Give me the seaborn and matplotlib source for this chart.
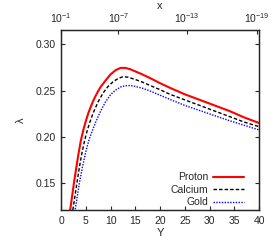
import matplotlib
matplotlib.use("Agg")
import matplotlib.pyplot as plt
import pandas as pd
import seaborn as sns
from matplotlib.lines import Line2D

# curve values (Y, lambda)
proton_y = [1.7, 2.0, 2.6, 3.0, 3.5, 4.0, 4.5, 5.0, 5.5, 6.0, 6.5, 7.0, 7.5, 8.0, 9.0, 10.0,
            11.0, 12.0, 13.0, 14.0, 16.0, 18.0, 20.0, 22.0, 25.0, 28.0, 31.0, 34.0, 37.0, 40.0]
proton_l = [0.116, 0.127, 0.150, 0.164, 0.181, 0.196, 0.2075, 0.217, 0.2255, 0.2325, 0.239,
            0.2445, 0.2495, 0.254, 0.261, 0.2675, 0.272, 0.2745, 0.2745, 0.273, 0.2685, 0.2635,
            0.258, 0.253, 0.246, 0.240, 0.234, 0.228, 0.221, 0.215]

calcium_y = [2.2, 2.7, 3.2, 3.7, 4.2, 4.8, 5.3, 5.8, 6.5, 7.5, 8.5, 9.5, 10.5, 11.5, 12.5,
             13.5, 15.0, 16.5, 18.0, 20.0, 22.0, 25.0, 28.0, 31.0, 34.0, 37.0, 40.0]
calcium_l = [0.115, 0.132, 0.150, 0.167, 0.182, 0.197, 0.207, 0.2155, 0.226, 0.238, 0.2475,
             0.2545, 0.2595, 0.263, 0.265, 0.2645, 0.262, 0.259, 0.2555, 0.251, 0.246, 0.240,
             0.234, 0.228, 0.222, 0.216, 0.211]

gold_y = [2.6, 3.2, 3.7, 4.3, 5.0, 5.6, 6.2, 7.0, 8.0, 9.0, 10.0, 11.0, 12.0, 13.0, 14.0,
          15.0, 16.5, 18.0, 20.0, 22.0, 25.0, 28.0, 31.0, 34.0, 37.0, 40.0]
gold_l = [0.113, 0.133, 0.150, 0.167, 0.184, 0.196, 0.205, 0.216, 0.228, 0.238, 0.2455,
          0.2505, 0.2538, 0.2553, 0.2555, 0.2545, 0.2525, 0.2495, 0.245, 0.2405, 0.234,
          0.2285, 0.223, 0.2175, 0.2125, 0.2075]

series_names = ["Proton", "Calcium", "Gold"]
series_colors = ["#ff0000", "#000000", "#0000ff"]
series_styles = ["-", (0, (2.5, 1.5)), (0, (1, 1))]
series_widths = [1.5, 1.0, 1.0]

x_ticks = [0, 5, 10, 15, 20, 25, 30, 35, 40]
y_ticks = [0.15, 0.20, 0.25, 0.30]
top_tick_pos = [0.0, 11.6, 25.4, 39.6]
top_tick_labels = [r"$10^{-1}$", r"$10^{-7}$", r"$10^{-13}$", r"$10^{-19}$"]

sns.set_style("ticks")
plt.rcParams["font.family"] = ["Liberation Sans", "DejaVu Sans"]
plt.rcParams["mathtext.fontset"] = "custom"
plt.rcParams["mathtext.rm"] = "Liberation Sans"
plt.rcParams["mathtext.it"] = "Liberation Sans"

fig = plt.figure(figsize=(2.75, 2.5), dpi=100)
ax = fig.add_axes([0.222, 0.16, 0.72, 0.722])

data = [(proton_y, proton_l), (calcium_y, calcium_l), (gold_y, gold_l)]
handles = []
for (xs, ls), name, c, st, lw in zip(data, series_names, series_colors, series_styles, series_widths):
    df = pd.DataFrame({"Y": xs, "lam": ls})
    sns.lineplot(data=df, x="Y", y="lam", ax=ax, color=c, linestyle=st, linewidth=lw,
                 sort=False, estimator=None)
    handles.append(Line2D([], [], color=c, linestyle=st, linewidth=lw, label=name))

ax.set_xlim(0, 40)
ax.set_ylim(0.121, 0.316)
ax.set_xticks(x_ticks)
ax.set_yticks(y_ticks)
ax.set_yticklabels([f"{v:.2f}" for v in y_ticks])
ax.set_xlabel("Y", fontsize=8, labelpad=2)
ax.set_ylabel("λ", fontsize=8, labelpad=7)
ax.tick_params(direction="in", length=3, width=0.8, labelsize=7.5, right=True, top=False,
               pad=4)
for sp in ax.spines.values():
    sp.set_linewidth(1.0)
    sp.set_visible(True)

ax2 = ax.twiny()
ax2.set_xlim(0, 40)
ax2.set_xticks(top_tick_pos)
ax2.set_xticklabels(top_tick_labels)
ax2.tick_params(direction="in", length=3, width=0.8, labelsize=7.5, pad=3)
ax2.set_xlabel("x", fontsize=8, labelpad=2)

ax.legend(handles=handles, loc="lower right", bbox_to_anchor=(0.955, -0.02), frameon=False,
          markerfirst=False, fontsize=7.5, handlelength=3.0, handletextpad=0.4,
          labelspacing=0.25, borderaxespad=0.2)

fig.savefig("out.png", dpi=100)
